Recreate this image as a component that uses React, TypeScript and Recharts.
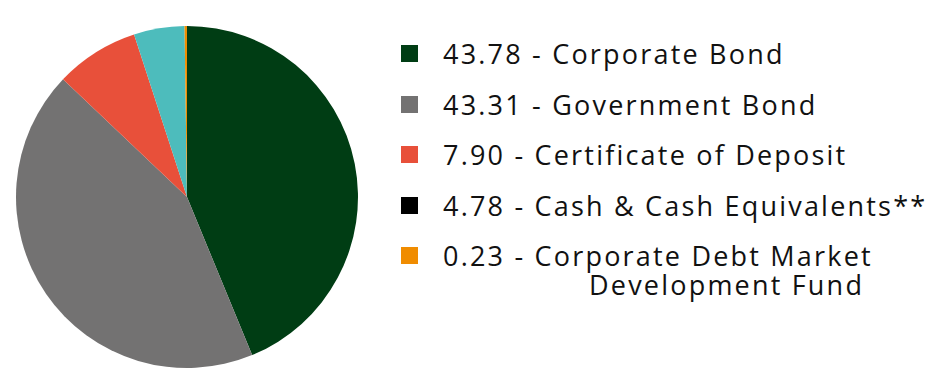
import { PieChart, Pie, Cell, Legend } from "recharts";

const categories = [
  "Corporate Bond",
  "Government Bond",
  "Certificate of Deposit",
  "Cash & Cash Equivalents**",
  "Corporate Debt Market Development Fund",
];
const values = [43.78, 43.31, 7.9, 4.78, 0.23];
const valueLabels = ["43.78", "43.31", "7.90", "4.78", "0.23"];

const SLICE_COLORS = ["#003d14", "#737272", "#e8503a", "#4dbcbc", "#f08c00"];
const MARKER_COLORS = ["#003d14", "#737272", "#e8503a", "#000000", "#f08c00"];

const chartData = categories.map((name, i) => ({ name, value: values[i] }));

const FONT = "'Open Sans', 'Noto Sans', sans-serif";

const LegendBox = () => (
  <div style={{ fontFamily: FONT, fontSize: 27, color: "#111", lineHeight: "28px", letterSpacing: 2.2 }}>
    {categories.map((name, i) => {
      const last = i === categories.length - 1;
      return (
        <div key={name} style={{ display: "flex", alignItems: "flex-start", height: last ? 60 : 50.5 }}>
          <span
            style={{
              display: "inline-block",
              width: 17,
              height: 17,
              background: MARKER_COLORS[i],
              marginTop: 5,
              marginRight: 25,
              flexShrink: 0,
            }}
          />
          {last ? (
            <div style={{ lineHeight: "30px", marginTop: -1 }}>
              <div>{valueLabels[i]} - Corporate Debt Market</div>
              <div style={{ paddingLeft: 146, marginTop: -1 }}>Development Fund</div>
            </div>
          ) : (
            <span>
              {valueLabels[i]} - {name}
            </span>
          )}
        </div>
      );
    })}
  </div>
);

const App = () => {
  return (
    <div style={{ position: "absolute", left: 0, top: 0, background: "#fff" }}>
      <PieChart width={931} height={382} margin={{ top: 0, right: 0, bottom: 0, left: 0 }}>
        <Pie
          data={chartData}
          dataKey="value"
          cx={187}
          cy={197}
          outerRadius={171}
          startAngle={90}
          endAngle={-270}
          stroke="none"
          isAnimationActive={false}
        >
          {chartData.map((_, index) => (
            <Cell key={index} fill={SLICE_COLORS[index]} />
          ))}
        </Pie>
        <Legend
          layout="vertical"
          content={() => <LegendBox />}
          wrapperStyle={{ left: 401, top: 40, width: 530 }}
        />
      </PieChart>
    </div>
  );
};

export default App;
